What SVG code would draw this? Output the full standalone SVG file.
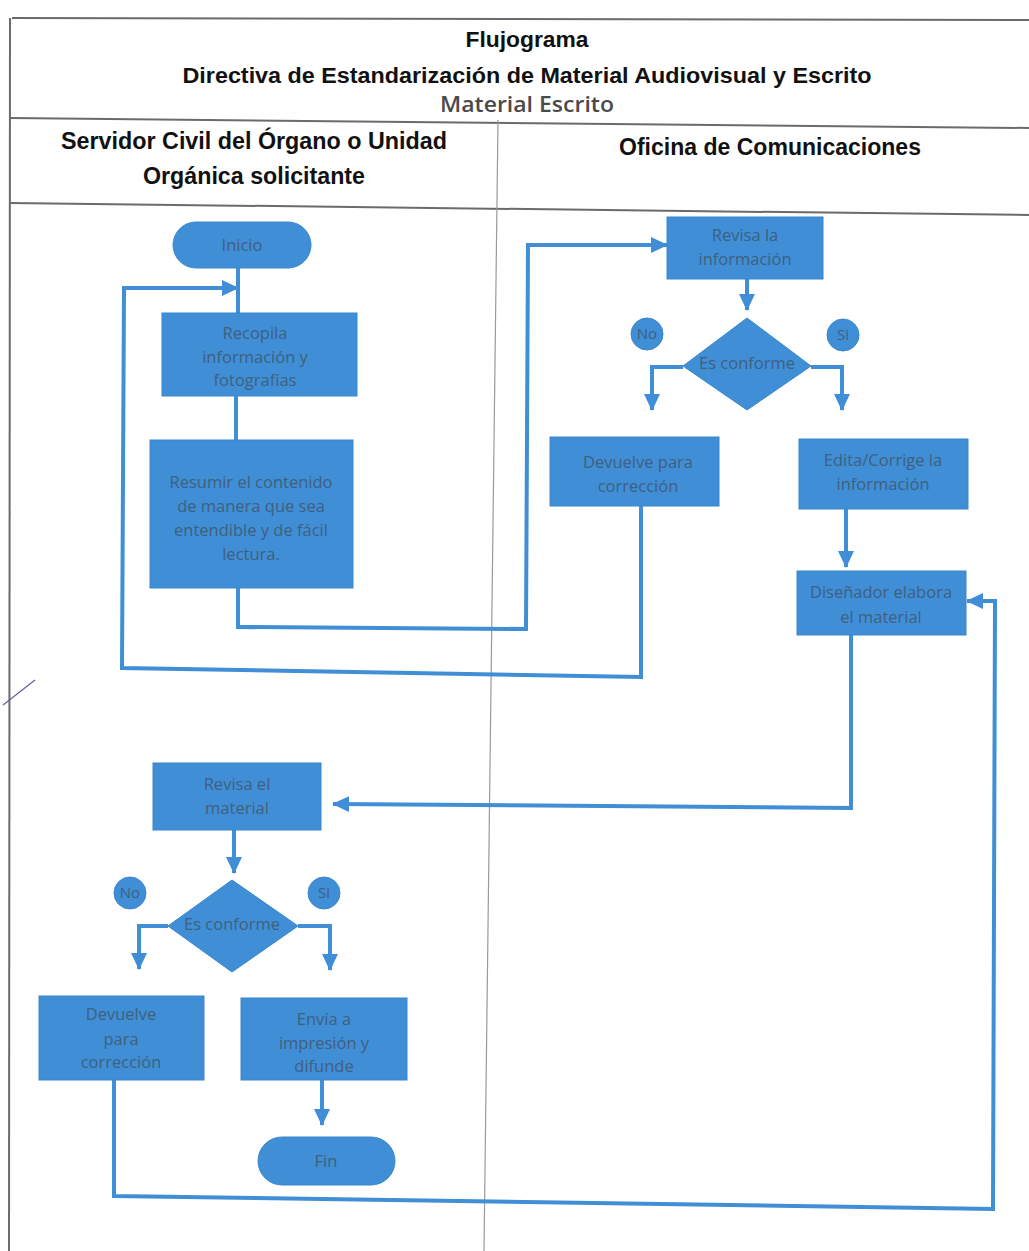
<svg xmlns="http://www.w3.org/2000/svg" width="1029" height="1251" viewBox="0 0 1029 1251">
<style>
.grid{stroke:#6b6b6b;stroke-width:2;fill:none}
.div{stroke:#9a9a9a;stroke-width:1.2;fill:none}
.h{font-family:"Liberation Sans",Arial,sans-serif;font-weight:bold;fill:#111;text-anchor:middle}
.sub{font-family:"Open Sans","Liberation Sans",sans-serif;font-weight:600;fill:#4a4a4a;text-anchor:middle}
.box{fill:#3f8ed6;stroke:#3a86cc;stroke-width:1}
.t{font-family:"Open Sans","Liberation Sans",sans-serif;font-size:16.5px;fill:#40607f;text-anchor:middle}
.s{font-size:15px}
.c{fill:none;stroke:#3f8ed6;stroke-width:4;stroke-linejoin:miter}
</style>
<defs>
<marker id="ah" markerUnits="userSpaceOnUse" markerWidth="18" markerHeight="18" viewBox="0 0 18 18" refX="16" refY="9" orient="auto">
<path d="M0,1 L17,9 L0,17 Z" fill="#3f8ed6"/>
</marker>
</defs>
<rect x="0" y="0" width="1029" height="1251" fill="#fff"/>
<g id="table">
<path class="grid" d="M12,18 L1029,20"/>
<path class="grid" d="M10,18 L9,1251"/>
<path class="grid" d="M10,118 L1029,128"/>
<path class="grid" d="M10,203 L1029,215"/>
<path class="div" d="M498,120 L484,1251"/>
<path d="M3,705 L35,680" stroke="#6a5aa8" stroke-width="1.2" fill="none"/>
<text class="h" x="527" y="47" font-size="22" textLength="123" lengthAdjust="spacingAndGlyphs">Flujograma</text>
<text class="h" x="527" y="83" font-size="22" textLength="689" lengthAdjust="spacingAndGlyphs">Directiva de Estandarización de Material Audiovisual y Escrito</text>
<text class="sub" x="527" y="112" font-size="21" textLength="174" lengthAdjust="spacingAndGlyphs">Material Escrito</text>
<text class="h" x="254" y="149" font-size="23" textLength="386" lengthAdjust="spacingAndGlyphs">Servidor Civil del Órgano o Unidad</text>
<text class="h" x="254" y="184" font-size="23" textLength="222" lengthAdjust="spacingAndGlyphs">Orgánica solicitante</text>
<text class="h" x="770" y="155" font-size="23" textLength="302" lengthAdjust="spacingAndGlyphs">Oficina de Comunicaciones</text>
</g>
<g id="connectors">
<path class="c" d="M238,268 L238,313"/>
<path class="c" d="M236,396 L236,440"/>
<path class="c" d="M238,588 L238,627 L526,629 L528,245 L667,245" marker-end="url(#ah)"/>
<path class="c" d="M747,279 L747,310" marker-end="url(#ah)"/>
<path class="c" d="M683,367 L652,367 L652,410" marker-end="url(#ah)"/>
<path class="c" d="M811,367 L842,367 L842,410" marker-end="url(#ah)"/>
<path class="c" d="M641,506 L641,677 L122,668 L124,288 L238,288" marker-end="url(#ah)"/>
<path class="c" d="M846,509 L846,567" marker-end="url(#ah)"/>
<path class="c" d="M851,635 L851,808 L333,804" marker-end="url(#ah)"/>
<path class="c" d="M234,830 L234,873" marker-end="url(#ah)"/>
<path class="c" d="M168,926 L139,926 L139,969" marker-end="url(#ah)"/>
<path class="c" d="M298,926 L330,926 L330,970" marker-end="url(#ah)"/>
<path class="c" d="M322,1080 L322,1125" marker-end="url(#ah)"/>
<path class="c" d="M114,1080 L114,1196 L993,1209 L995,601 L967,601" marker-end="url(#ah)"/>
</g>
<g id="n-inicio"><rect class="box" x="173" y="222" width="138" height="46" rx="23"/><text class="t" x="242" y="251">Inicio</text></g>
<g id="n-recopila"><rect class="box" x="162" y="313" width="195" height="83"/><text class="t" x="255" y="339">Recopila</text><text class="t" x="255" y="363">información y</text><text class="t" x="255" y="386">fotografías</text></g>
<g id="n-resumir"><rect class="box" x="150" y="440" width="203" height="148"/><text class="t" x="251" y="488">Resumir el contenido</text><text class="t" x="251" y="512">de manera que sea</text><text class="t" x="251" y="536">entendible y de fácil</text><text class="t" x="251" y="560">lectura.</text></g>
<g id="n-revisa-info"><rect class="box" x="667" y="217" width="156" height="62"/><text class="t" x="745" y="241">Revisa la</text><text class="t" x="745" y="265">información</text></g>
<g id="n-decision1"><polygon class="box" points="747,318 811,366 747,410 683,366"/><text class="t" x="747" y="369">Es conforme</text></g>
<g id="n-no1"><circle class="box" cx="647" cy="334" r="16"/><text class="t s" x="647" y="339">No</text></g>
<g id="n-si1"><circle class="box" cx="843" cy="335" r="16"/><text class="t s" x="843" y="340">Si</text></g>
<g id="n-devuelve1"><rect class="box" x="550" y="437" width="169" height="69"/><text class="t" x="638" y="468">Devuelve para</text><text class="t" x="638" y="492">corrección</text></g>
<g id="n-edita"><rect class="box" x="799" y="439" width="169" height="70"/><text class="t" x="883" y="466">Edita/Corrige la</text><text class="t" x="883" y="490">información</text></g>
<g id="n-disenador"><rect class="box" x="797" y="571" width="169" height="64"/><text class="t" x="881" y="598">Diseñador elabora</text><text class="t" x="881" y="623">el material</text></g>
<g id="n-revisa-material"><rect class="box" x="153" y="763" width="168" height="67"/><text class="t" x="237" y="790">Revisa el</text><text class="t" x="237" y="814">material</text></g>
<g id="n-decision2"><polygon class="box" points="232,880 298,926 232,972 168,926"/><text class="t" x="232" y="930">Es conforme</text></g>
<g id="n-no2"><circle class="box" cx="130" cy="893" r="16"/><text class="t s" x="130" y="898">No</text></g>
<g id="n-si2"><circle class="box" cx="324" cy="893" r="16"/><text class="t s" x="324" y="898">Si</text></g>
<g id="n-devuelve2"><rect class="box" x="39" y="996" width="165" height="84"/><text class="t" x="121" y="1020">Devuelve</text><text class="t" x="121" y="1045">para</text><text class="t" x="121" y="1068">corrección</text></g>
<g id="n-envia"><rect class="box" x="241" y="998" width="166" height="82"/><text class="t" x="324" y="1025">Envía a</text><text class="t" x="324" y="1049">impresión y</text><text class="t" x="324" y="1072">difunde</text></g>
<g id="n-fin"><rect class="box" x="258" y="1137" width="137" height="48" rx="24"/><text class="t" x="326" y="1167">Fin</text></g>
</svg>
